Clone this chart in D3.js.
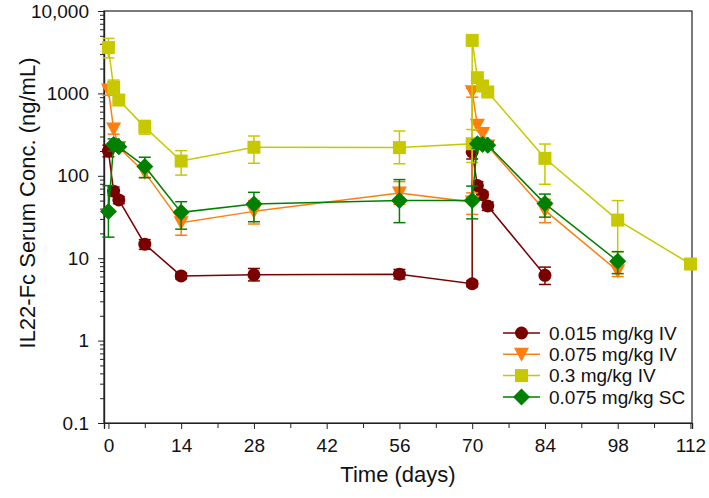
<!DOCTYPE html>
<html><head><meta charset="utf-8">
<script src="https://cdn.jsdelivr.net/npm/d3@7"></script>
<style>
html,body{margin:0;padding:0;background:#fff;}
svg text{font-family:"Liberation Sans",Arial,sans-serif;}
</style></head>
<body><svg id="c" width="709" height="498"></svg>
<script>
// ---- data ----
const seriesNames = ["0.015 mg/kg IV","0.075 mg/kg IV","0.3 mg/kg IV","0.075 mg/kg SC"];
const seriesColors = ["#7a0000","#ff7f0e","#c8c800","#008000"];
const seriesShapes = ["circle","triangle","square","diamond"];

const days015 = [0,1,2,7,14,28,56,70,70,71,72,73,84];
const conc015 = [200,65,51,14.8,6.1,6.3,6.4,4.9,195,76,59,43,6.2];
const lo015   = [170,58,46,12.8,5.6,5.3,5.6,4.5,160,68,54,38,4.8];
const hi015   = [235,73,56,16.8,6.6,7.5,7.3,5.3,240,85,64,48,7.8];

const days075 = [0,1,2,7,14,28,56,70,70,71,72,73,84,98];
const conc075 = [1100,370,220,110,27,37,62,48,1050,410,325,230,38,7];
const lo075   = [950,320,200,95,19,26,45,34,900,360,290,210,27,6];
const hi075   = [1200,420,240,125,37,50,85,62,1150,460,360,250,52,8.5];

const days03 = [0,1,2,7,14,28,56,70,70,71,72,73,84,98,112];
const conc03 = [3600,1180,830,390,151,222,220,245,4400,1550,1230,1040,163,29,8.5];
const lo03   = [2700,960,760,320,102,142,140,145,3900,1400,1100,950,79,12,8.5];
const hi03   = [4650,1450,900,470,202,304,350,365,4900,1700,1350,1130,243,50,8.5];

const daysSC = [0,1,2,7,14,28,56,70,71,72,73,84,98];
const concSC = [37,240,225,130,36,45.5,50,50,245,240,235,46,9.2];
const loSC   = [18,200,200,95,22.5,27.7,27,30,215,215,210,31.5,6.5];
const hiSC   = [76,280,250,168,48.5,63,90,75,275,270,260,60,12];

const xTicks = [0,14,28,42,56,70,84,98,112];
const xMinorTicks = [7,21,35,49,63,77,91,105];
const yTicks = [0.1,1,10,100,1000,10000];
const yTickLabels = ["0.1","1","10","100","1000","10,000"];
const xTitle = "Time (days)";
const yTitle = "IL22-Fc Serum Conc. (ng/mL)";

// ---- layout ----
const L=104, R=692, T=11, B=423;
const svg = d3.select("#c");
const x = d3.scaleLinear().domain([-0.85,112.3]).range([L,R]);
const y = d3.scaleLog().domain([0.1,10000]).range([B,T]);

const series = [
  {d:days015,c:conc015,lo:lo015,hi:hi015},
  {d:days075,c:conc075,lo:lo075,hi:hi075},
  {d:days03,c:conc03,lo:lo03,hi:hi03},
  {d:daysSC,c:concSC,lo:loSC,hi:hiSC}
];

// frame
svg.append("rect").attr("x",L).attr("y",T).attr("width",R-L).attr("height",B-T)
  .attr("fill","none").attr("stroke","#222").attr("stroke-width",1.2);

// axes
const fs = 19;
svg.append("g").attr("transform",`translate(0,${B})`)
  .call(d3.axisBottom(x).tickValues(xTicks).tickSize(6).tickPadding(10).tickFormat(d3.format("d")));
svg.append("g").attr("transform",`translate(0,${B})`)
  .call(d3.axisBottom(x).tickValues(xMinorTicks).tickSize(5).tickFormat(""));
svg.append("g").attr("transform",`translate(${L},0)`)
  .call(d3.axisLeft(y).tickValues(yTicks).tickSize(6).tickPadding(9).tickFormat((d,i)=>yTickLabels[i]));
svg.append("g").attr("transform",`translate(${L},0)`)
  .call(d3.axisLeft(y).tickValues(y.ticks().filter(v=>!yTicks.some(t=>Math.abs(t-v)/t<1e-6))).tickSize(4).tickFormat(""));
svg.selectAll(".domain").attr("stroke","#222").attr("stroke-width",1.2);
svg.selectAll(".tick line").attr("stroke","#222");
svg.selectAll(".tick text").attr("font-size",fs).attr("fill","#111")
  .attr("font-family","'Liberation Sans',Arial,sans-serif");

// titles
svg.append("text").attr("x",(L+R)/2).attr("y",482).attr("text-anchor","middle")
  .attr("font-size",22).attr("fill","#111").text(xTitle);
svg.append("text").attr("transform",`translate(35,${(T+B)/2-14}) rotate(-90)`)
  .attr("text-anchor","middle").attr("font-size",22).attr("fill","#111").text(yTitle);

// symbols
function marker(g, shape, color, cx, cy){
  if(shape==="circle") g.append("circle").attr("cx",cx).attr("cy",cy).attr("r",6.5).attr("fill",color);
  else if(shape==="square") g.append("rect").attr("x",cx-6.5).attr("y",cy-6.5).attr("width",13).attr("height",13).attr("fill",color);
  else if(shape==="triangle") g.append("path").attr("d",`M${cx-7.5},${cy-6.5}L${cx+7.5},${cy-6.5}L${cx},${cy+7.5}Z`).attr("fill",color);
  else if(shape==="diamond") g.append("path").attr("d",`M${cx},${cy-8.5}L${cx+8.5},${cy}L${cx},${cy+8.5}L${cx-8.5},${cy}Z`).attr("fill",color);
}
const lineGen = d3.line().x(p=>x(p[0])).y(p=>y(p[1]));

series.forEach((s,k)=>{
  const g = svg.append("g");
  const col = seriesColors[k];
  const pts = s.d.map((d,i)=>[d,s.c[i]]);
  g.append("path").attr("d",lineGen(pts)).attr("fill","none").attr("stroke",col).attr("stroke-width",1.5);
  s.d.forEach((d,i)=>{
    if(s.hi[i]>s.lo[i]){
      const cx=x(d), y1=y(s.hi[i]), y2=y(s.lo[i]);
      g.append("line").attr("x1",cx).attr("x2",cx).attr("y1",y1).attr("y2",y2).attr("stroke",col).attr("stroke-width",1.5);
      g.append("line").attr("x1",cx-6).attr("x2",cx+6).attr("y1",y1).attr("y2",y1).attr("stroke",col).attr("stroke-width",1.5);
      g.append("line").attr("x1",cx-6).attr("x2",cx+6).attr("y1",y2).attr("y2",y2).attr("stroke",col).attr("stroke-width",1.5);
    }
  });
  s.d.forEach((d,i)=>marker(g,seriesShapes[k],col,x(d),y(s.c[i])));
});

// legend
const lg = svg.append("g");
seriesNames.forEach((n,k)=>{
  const ly = 333 + k*21.3;
  lg.append("line").attr("x1",503).attr("x2",540).attr("y1",ly).attr("y2",ly).attr("stroke",seriesColors[k]).attr("stroke-width",1.5);
  marker(lg,seriesShapes[k],seriesColors[k],521.5,ly);
  lg.append("text").attr("x",549).attr("y",ly).attr("dy","0.35em").attr("font-size",19).attr("fill","#111").text(n);
});
</script></body></html>
